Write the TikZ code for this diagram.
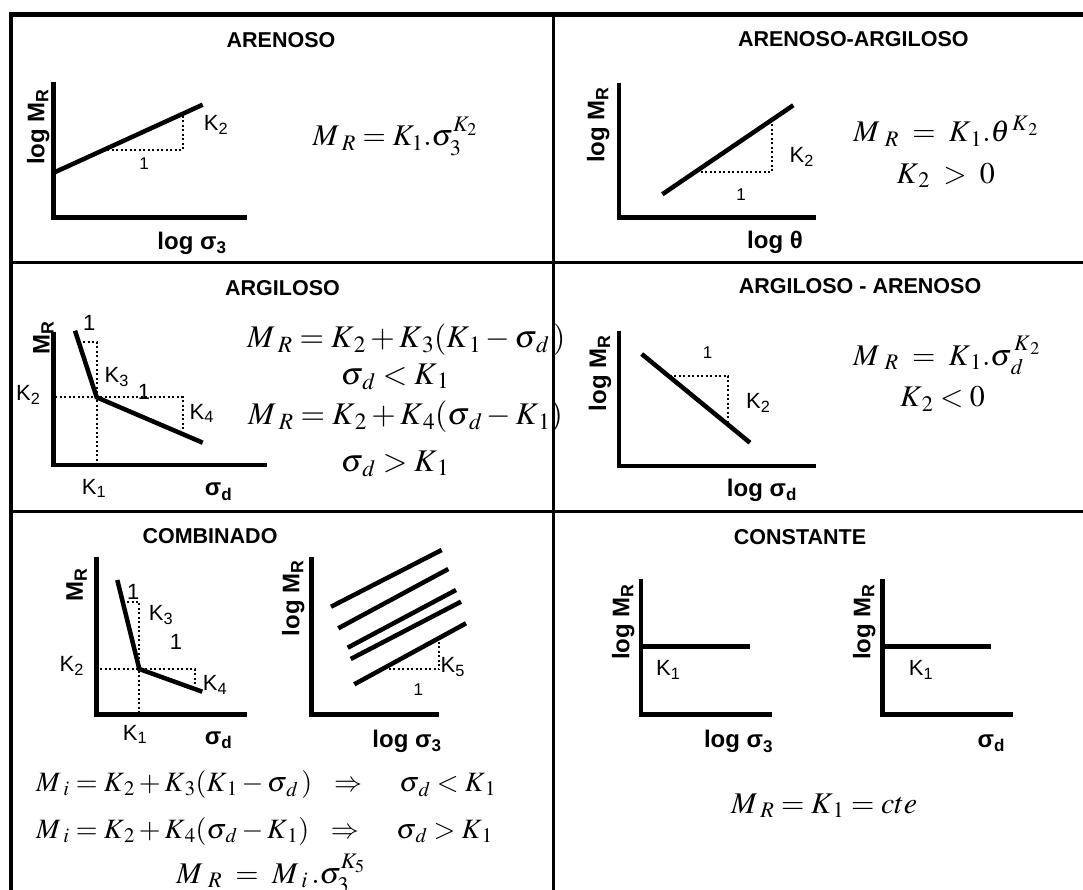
\documentclass[tikz,border=0pt]{standalone}
\usepackage{mathptmx}
\usepackage[no-math]{fontspec}
\newfontfamily\arial{Liberation Sans}
\newcommand{\lsub}[1]{\raisebox{-0.35ex}{\fontsize{17}{18}\selectfont #1}}
\begin{document}
\begin{tikzpicture}[x=1pt,y=-1pt,
  ttl/.style={font=\arial\bfseries\fontsize{21.5}{26}\selectfont, inner sep=0pt, anchor=base},
  axl/.style={font=\arial\bfseries\fontsize{24}{28}\selectfont, inner sep=0pt},
  kl/.style={font=\arial\fontsize{22}{24}\selectfont, inner sep=0pt},
  onel/.style={font=\arial\fontsize{17}{20}\selectfont, inner sep=0pt},
  eq/.style={font=\fontsize{30}{36}\selectfont, inner sep=0pt, anchor=base},
  eqb/.style={eq, font=\fontsize{31.5}{36}\selectfont},
  eqs/.style={eq, font=\fontsize{28}{32}\selectfont},
  axis/.style={line width=4.5pt, line join=miter},
  crv/.style={line width=4.5pt},
  dots/.style={line width=2pt, dash pattern=on 2pt off 2.5pt},
  frm/.style={line width=3pt}]
\useasboundingbox (0,0) rectangle (1083,890);
\clip (0,0) rectangle (1083,890);
% ---------- frame ----------
\coordinate (fTL) at (11,14.5); \coordinate (fTR) at (1083,14.5);
\coordinate (fBL) at (11,890);
\coordinate (fM1L) at (11,262.5); \coordinate (fM1R) at (1083,262.5);
\coordinate (fM2L) at (11,511.5); \coordinate (fM2R) at (1083,511.5);
\coordinate (fVT) at (553,14.5); \coordinate (fVB) at (553,890);
\draw[line width=5pt] (9,14.5) -- (fTR);
\draw[line width=4pt] (fTL) -- (fBL);
\draw[frm] (fM1L) -- (fM1R);
\draw[frm] (fM2L) -- (fM2R);
\draw[frm] (fVT) -- (fVB);

% ---------- panel 1: ARENOSO ----------
\node[ttl] (t1) at (281,47.7) {ARENOSO};
\coordinate (a1t) at (53.7,81.7); \coordinate (a1o) at (53.7,217.3); \coordinate (a1r) at (246.7,217.3);
\draw[axis] (a1t) -- (a1o) -- (a1r);
\coordinate (l1a) at (53.7,172.7); \coordinate (l1b) at (202.7,104.7);
\draw[crv] (l1a) -- (l1b);
\coordinate (d1a) at (107,150); \coordinate (d1b) at (182.7,150); \coordinate (d1c) at (182.7,114);
\draw[dots] (d1a) -- (d1b) -- (d1c);
\node[onel] (o1) at (144,164) {1};
\node[kl] (k1) at (216,125) {K\textsubscript{2}};
\node[axl, rotate=90] (y1) at (38.3,126.7) {log M\textsubscript{R}};
\node[axl] (x1) at (191.7,243.3) {log σ\lsub{3}};
\node[eq] (e1) at (395,146) {$M_{\mkern4mu R} = K_{1}.\sigma_{3}^{K_{2}}$};

% ---------- panel 2: ARENOSO-ARGILOSO ----------
\node[ttl] (t2) at (853.3,46.7) {ARENOSO-ARGILOSO};
\coordinate (a2t) at (619,82.7); \coordinate (a2o) at (619,217.3); \coordinate (a2r) at (815.7,217.3);
\draw[axis] (a2t) -- (a2o) -- (a2r);
\coordinate (l2a) at (662.3,194.3); \coordinate (l2b) at (793.3,105.3);
\draw[crv] (l2a) -- (l2b);
\coordinate (d2a) at (696,172.3); \coordinate (d2b) at (771.7,172.3); \coordinate (d2c) at (771.7,121);
\draw[dots] (d2a) -- (d2b) -- (d2c);
\node[onel] (o2) at (741,194.3) {1};
\node[kl] (k2) at (801.7,156.7) {K\textsubscript{2}};
\node[axl, rotate=90] (y2) at (598.3,125) {log M\textsubscript{R}};
\node[axl] (x2) at (775,242.3) {log θ};
\node[eq] (e2a) at (945.8,141.7) {$M_{\mkern6mu R} \;=\; K_{\,1}.\theta^{\,K_{\,2}}$};
\node[eq] (e2b) at (945.8,183.3) {$K_{\,2} \;>\; 0$};

% ---------- panel 3: ARGILOSO ----------
\node[ttl] (t3) at (282.5,295) {ARGILOSO};
\coordinate (a3t) at (53.3,331.7); \coordinate (a3o) at (53.3,465); \coordinate (a3r) at (266.7,465);
\draw[axis] (a3t) -- (a3o) -- (a3r);
\coordinate (l3a) at (75,330.7); \coordinate (l3b) at (96.7,397.3); \coordinate (l3c) at (202.7,442.7);
\draw[crv, line join=miter] (l3a) -- (l3b) -- (l3c);
\coordinate (d3a) at (55,397.3); \coordinate (d3b) at (182.7,397.3); \coordinate (d3c) at (182.7,433);
\draw[dots] (d3a) -- (d3b) -- (d3c);
\coordinate (d3d) at (78.6,341.7); \coordinate (d3e) at (96.7,341.7); \coordinate (d3f) at (96.7,465);
\draw[dots] (d3d) -- (d3e) -- (d3f);
\node[kl] (o3a) at (89.3,323.3) {1};
\node[kl] (k3a) at (116.7,376.7) {K\textsubscript{3}};
\node[kl] (k3b) at (28.3,395) {K\textsubscript{2}};
\node[kl] (o3b) at (144,391.5) {1};
\node[kl] (k3c) at (201.7,413.3) {K\textsubscript{4}};
\node[kl] (k3d) at (94,488.3) {K\textsubscript{1}};
\node[axl] (x3) at (218.3,491.7) {σ\lsub{d}};
\node[axl, rotate=90] (y3) at (43.3,338.3) {M\textsubscript{R}};
\node[eqb, anchor=base west] (e3a) at (247,347.3) {$M_{\mkern4mu R} = K_{\,2} + K_{\,3}(K_{\,1} - \sigma_{\,d}\,)$};
\node[eqb] (e3b) at (395,384) {$\sigma_{\,d} < K_{\,1}$};
\node[eqb, anchor=base west] (e3c) at (248,424.3) {$M_{\mkern4mu R} = K_{\,2} + K_{\,4}(\sigma_{\,d} - K_{\,1})$};
\node[eqb] (e3d) at (395,471) {$\sigma_{\,d} > K_{\,1}$};

% ---------- panel 4: ARGILOSO - ARENOSO ----------
\node[ttl] (t4) at (860,293.3) {ARGILOSO - ARENOSO};
\coordinate (a4t) at (619,330.7); \coordinate (a4o) at (619,466); \coordinate (a4r) at (815.7,466);
\draw[axis] (a4t) -- (a4o) -- (a4r);
\coordinate (l4a) at (641.7,354); \coordinate (l4b) at (750,442.7);
\draw[crv] (l4a) -- (l4b);
\coordinate (d4a) at (669.5,376); \coordinate (d4b) at (728.3,376); \coordinate (d4c) at (728.3,422);
\draw[dots] (d4a) -- (d4b) -- (d4c);
\node[onel] (o4) at (707.7,352.7) {1};
\node[kl] (k4) at (758.3,403.3) {K\textsubscript{2}};
\node[axl, rotate=90] (y4) at (600,373.3) {log M\textsubscript{R}};
\node[axl] (x4) at (761.7,490) {log σ\lsub{d}};
\node[eq] (e4a) at (946.7,365) {$M_{\mkern6mu R} \;=\; K_{\,1}.\sigma_{\,d}^{\,K_{\,2}}$};
\node[eq] (e4b) at (942.5,406.7) {$K_{\,2} < 0$};

% ---------- panel 5: COMBINADO ----------
\node[ttl] (t5) at (210,543.3) {COMBINADO};
% left plot
\coordinate (a5t) at (96.7,556.7); \coordinate (a5o) at (96.7,714.3); \coordinate (a5r) at (246.7,714.3);
\draw[axis] (a5t) -- (a5o) -- (a5r);
\coordinate (l5a) at (117.3,580); \coordinate (l5b) at (139.3,669); \coordinate (l5c) at (202.3,691.7);
\draw[crv, line join=miter] (l5a) -- (l5b) -- (l5c);
\coordinate (d5a) at (122.7,601.7); \coordinate (d5b) at (139.3,601.7); \coordinate (d5c) at (139.3,714.3);
\draw[dots] (d5a) -- (d5b) -- (d5c);
\coordinate (d5d) at (100,669); \coordinate (d5e) at (195,669); \coordinate (d5f) at (195,688);
\draw[dots] (d5d) -- (d5e) -- (d5f);
\node[kl] (o5a) at (133.3,592.3) {1};
\node[kl] (k5a) at (161,615) {K\textsubscript{3}};
\node[kl] (o5b) at (176,641.7) {1};
\node[kl] (k5b) at (71.7,665.7) {K\textsubscript{2}};
\node[kl] (k5c) at (215,685) {K\textsubscript{4}};
\node[kl] (k5d) at (135,734.3) {K\textsubscript{1}};
\node[axl] (x5a) at (218.3,740) {σ\lsub{d}};
\node[axl, rotate=90] (y5a) at (76.7,585) {M\textsubscript{R}};
% right plot
\coordinate (b5t) at (311.7,556.7); \coordinate (b5o) at (311.7,714.3); \coordinate (b5r) at (439.3,714.3);
\draw[axis] (b5t) -- (b5o) -- (b5r);
\coordinate (m1a) at (331,606.7);   \coordinate (m1b) at (441.7,550);
\coordinate (m2a) at (338.3,628.3); \coordinate (m2b) at (448.3,569);
\coordinate (m3a) at (347.7,647.7); \coordinate (m3b) at (456,590);
\coordinate (m4a) at (350.7,659);   \coordinate (m4b) at (461,601.7);
\coordinate (m5a) at (354.3,684.3); \coordinate (m5b) at (466,623.3);
\draw[crv] (m1a) -- (m1b);
\draw[crv] (m2a) -- (m2b);
\draw[crv] (m3a) -- (m3b);
\draw[crv] (m4a) -- (m4b);
\draw[crv] (m5a) -- (m5b);
\coordinate (d5g) at (384,669.3); \coordinate (d5h) at (439.3,669.3); \coordinate (d5i) at (439.3,638.5);
\draw[dots] (d5g) -- (d5h) -- (d5i);
\node[kl] (k5e) at (452.7,667.3) {K\textsubscript{5}};
\node[onel] (o5c) at (418.3,690) {1};
\node[axl, rotate=90] (y5b) at (293.3,598.3) {log M\textsubscript{R}};
\node[axl] (x5b) at (406.7,741) {log σ\lsub{3}};
\node[eqs, anchor=base west] (e5a) at (36,791.7) {$M_{\mkern4mu i} = K_{\,2} + K_{\,3}(K_{\,1} - \sigma_{\,d}\,)\mkern10mu\Rightarrow\mkern20mu \sigma_{\,d} < K_{\,1}$};
\node[eqs, anchor=base west] (e5b) at (36,838.3) {$M_{\mkern4mu i} = K_{\,2} + K_{\,4}(\sigma_{\,d} - K_{\,1})\mkern10mu\Rightarrow\mkern20mu \sigma_{\,d} > K_{\,1}$};
\node[eq] (e5c) at (270.8,883.3) {$M_{\mkern6mu R} \;=\; M_{\mkern4mu i}\,.\sigma_{3}^{K_{5}}$};

% ---------- panel 6: CONSTANTE ----------
\node[ttl] (t6) at (800,544.3) {CONSTANTE};
\coordinate (a6t) at (641,579); \coordinate (a6o) at (641,714.3); \coordinate (a6r) at (772.3,714.3);
\draw[axis] (a6t) -- (a6o) -- (a6r);
\coordinate (h6a) at (641,646.7); \coordinate (h6b) at (750,646.7);
\draw[crv] (h6a) -- (h6b);
\node[kl] (k6a) at (668.3,670) {K\textsubscript{1}};
\node[axl, rotate=90] (y6a) at (623.3,621.7) {log M\textsubscript{R}};
\node[axl] (x6a) at (738.3,741.7) {log σ\lsub{3}};
\coordinate (b6t) at (882.3,579); \coordinate (b6o) at (882.3,714.3); \coordinate (b6r) at (1013.3,714.3);
\draw[axis] (b6t) -- (b6o) -- (b6r);
\coordinate (h6c) at (882.3,646.7); \coordinate (h6d) at (991,646.7);
\draw[crv] (h6c) -- (h6d);
\node[kl] (k6b) at (921,670) {K\textsubscript{1}};
\node[axl, rotate=90] (y6b) at (864.3,621.7) {log M\textsubscript{R}};
\node[axl] (x6b) at (991,743.3) {σ\lsub{d}};
\node[eq] (e6) at (824.2,813.3) {$M_{\mkern4mu R} = K_{\,1} = cte$};
\end{tikzpicture}
\end{document}
